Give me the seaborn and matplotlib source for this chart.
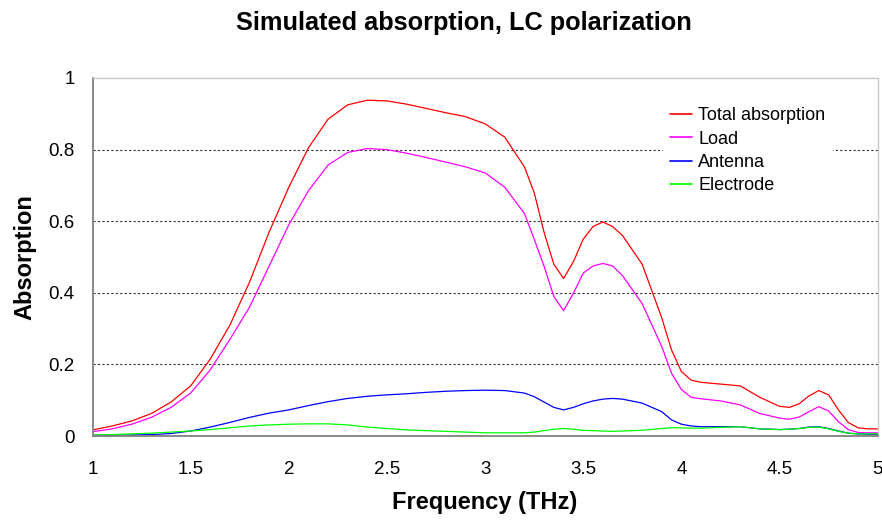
import pandas as pd
import matplotlib.pyplot as plt
import seaborn as sns

# values
freq = [1.0, 1.1, 1.2, 1.3, 1.4, 1.5, 1.6, 1.7, 1.8, 1.9,
        2.0, 2.1, 2.2, 2.3, 2.4, 2.5, 2.6, 2.7, 2.8, 2.9,
        3.0, 3.1, 3.2, 3.25, 3.3, 3.35, 3.4, 3.45, 3.5, 3.55,
        3.6, 3.65, 3.7, 3.8, 3.9, 3.95, 4.0, 4.05, 4.1, 4.2,
        4.3, 4.4, 4.5, 4.55, 4.6, 4.65, 4.7, 4.75, 4.8, 4.85,
        4.9, 4.95, 5.0]

total = [0.017, 0.028, 0.042, 0.063, 0.095, 0.14, 0.215, 0.31, 0.43, 0.57,
         0.695, 0.805, 0.885, 0.925, 0.938, 0.936, 0.927, 0.915, 0.903, 0.892,
         0.872, 0.835, 0.752, 0.68, 0.57, 0.48, 0.44, 0.487, 0.55, 0.585,
         0.598, 0.585, 0.56, 0.48, 0.33, 0.24, 0.18, 0.156, 0.15, 0.145,
         0.14, 0.108, 0.083, 0.08, 0.09, 0.112, 0.127, 0.115, 0.073, 0.038,
         0.023, 0.02, 0.02]

load = [0.012, 0.02, 0.033, 0.052, 0.08, 0.12, 0.185, 0.27, 0.36, 0.475,
        0.59, 0.685, 0.757, 0.792, 0.803, 0.80, 0.79, 0.778, 0.765, 0.752,
        0.735, 0.695, 0.622, 0.55, 0.475, 0.39, 0.35, 0.399, 0.455, 0.475,
        0.482, 0.475, 0.448, 0.37, 0.25, 0.175, 0.13, 0.108, 0.104, 0.098,
        0.087, 0.063, 0.05, 0.047, 0.053, 0.068, 0.082, 0.07, 0.04, 0.018,
        0.01, 0.009, 0.009]

antenna = [0.002, 0.002, 0.003, 0.004, 0.007, 0.014, 0.025, 0.038, 0.052, 0.064,
           0.073, 0.085, 0.096, 0.105, 0.111, 0.115, 0.118, 0.122, 0.125, 0.127,
           0.128, 0.127, 0.12, 0.11, 0.095, 0.08, 0.073, 0.08, 0.09, 0.098,
           0.103, 0.105, 0.103, 0.092, 0.068, 0.045, 0.033, 0.028, 0.026, 0.026,
           0.026, 0.02, 0.018, 0.019, 0.021, 0.025, 0.026, 0.021, 0.014, 0.008,
           0.006, 0.005, 0.004]

electrode = [0.003, 0.004, 0.006, 0.008, 0.011, 0.014, 0.018, 0.023, 0.028, 0.031,
             0.033, 0.034, 0.034, 0.031, 0.025, 0.021, 0.017, 0.015, 0.013, 0.011,
             0.009, 0.009, 0.009, 0.011, 0.015, 0.019, 0.021, 0.019, 0.016, 0.015,
             0.014, 0.013, 0.014, 0.016, 0.021, 0.023, 0.023, 0.022, 0.022, 0.024,
             0.026, 0.02, 0.018, 0.019, 0.021, 0.024, 0.025, 0.02, 0.013, 0.008,
             0.006, 0.006, 0.006]

series_names = ['Total absorption', 'Load', 'Antenna', 'Electrode']
colors = ['#ff0000', '#ff00ff', '#0000ff', '#00ff00']

df = pd.DataFrame({'Frequency': freq, 'Total absorption': total, 'Load': load,
                   'Antenna': antenna, 'Electrode': electrode})
long_df = df.melt(id_vars='Frequency', var_name='Series', value_name='Absorption')

sns.set_style("white")
plt.rcParams['font.family'] = ['Liberation Sans', 'DejaVu Sans']
plt.rcParams['text.color'] = 'black'
plt.rcParams['axes.labelcolor'] = 'black'

fig = plt.figure(figsize=(8.82, 5.2), dpi=100)
ax = fig.add_axes([0.1049, 0.1615, 0.8902, 0.6885])

sns.lineplot(data=long_df, x='Frequency', y='Absorption', hue='Series',
             hue_order=series_names, palette=dict(zip(series_names, colors)),
             linewidth=0.9, ax=ax)

ax.set_xlim(1, 5)
ax.set_ylim(0, 1)
ax.set_xticks([1, 1.5, 2, 2.5, 3, 3.5, 4, 4.5, 5])
ax.set_xticklabels(['1', '1.5', '2', '2.5', '3', '3.5', '4', '4.5', '5'])
ax.set_yticks([0, 0.2, 0.4, 0.6, 0.8, 1])
ax.set_yticklabels(['0', '0.2', '0.4', '0.6', '0.8', '1'])

for v in [0.2, 0.4, 0.6, 0.8]:
    ax.axhline(v, color='#333333', linewidth=0.8, linestyle=(0, (2, 2)), zorder=0)

for s in ['left', 'bottom']:
    ax.spines[s].set_color('#808080')
    ax.spines[s].set_linewidth(1.3)
for s in ['top', 'right']:
    ax.spines[s].set_color('#c8c8c8')
    ax.spines[s].set_linewidth(1.0)

ax.tick_params(axis='both', direction='out', length=4.3, width=1, color='#808080',
               labelsize=13.5, labelcolor='black')
ax.tick_params(axis='y', pad=8.5)
ax.tick_params(axis='x', pad=14)

ax.set_xlabel('Frequency (THz)', fontsize=17, fontweight='bold', labelpad=9)
ax.set_ylabel('Absorption', fontsize=17, fontweight='bold', labelpad=9)
fig.text(0.526, 1 - 23 / 520, 'Simulated absorption, LC polarization',
         fontsize=18.3, fontweight='bold', ha='center', va='center')

leg = ax.legend(loc='upper left', bbox_to_anchor=(663 / 882, 1 - 100 / 520),
                bbox_transform=fig.transFigure, frameon=True, fancybox=False,
                edgecolor='none', facecolor='white', framealpha=1,
                fontsize=13, handlelength=1.2, handletextpad=0.35,
                labelspacing=0.35, borderpad=0.4, borderaxespad=0, title=None)
for text in leg.get_texts():
    text.set_color('black')
for line in leg.get_lines():
    line.set_linewidth(1.2)

fig.savefig('out.png', dpi=100)
